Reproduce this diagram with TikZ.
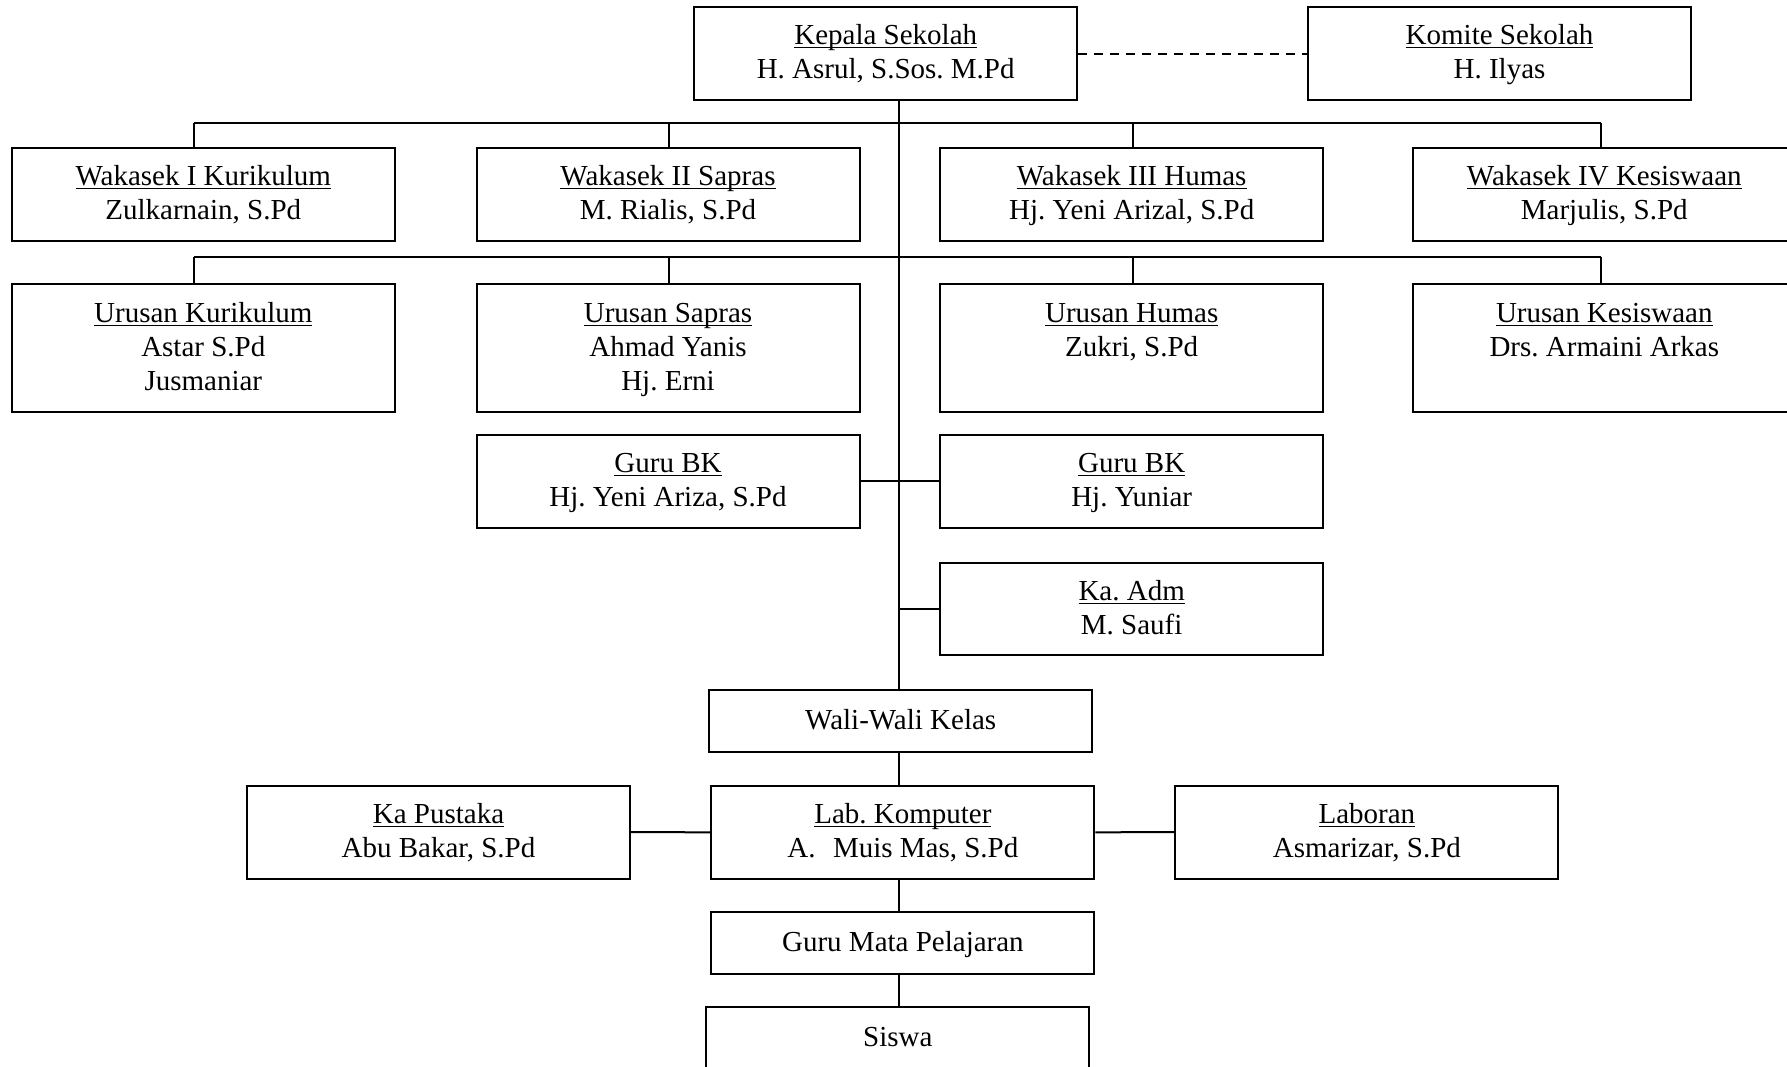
\documentclass[tikz,border=0pt]{standalone}
\usepackage{fontspec}
\setmainfont{Liberation Serif}
\frenchspacing
\newcommand\sr{\rule[-3.85pt]{0pt}{15.85pt}}
\newcommand\uln[1]{\setbox0=\hbox{#1}\rlap{\rule[-1.8pt]{\wd0}{0.55pt}}\box0}
\begin{document}
\begin{tikzpicture}[x=0.5pt,y=-0.5pt,
  box/.style={draw, line width=1pt, minimum width=191.5pt, minimum height=46.4pt,
    inner sep=0pt, align=center, font=\fontsize{14.5pt}{17pt}\selectfont},
  tallbox/.style={box, minimum height=63.7pt},
  lowbox/.style={box, minimum height=31pt},
  conn/.style={line width=1pt}]
\useasboundingbox (0,0) rectangle (1787,1066);

% top
\node[box] (kepala) at (885.7,53.7) {\uln{Kepala Sekolah}\sr\\H. Asrul, S.Sos. M.Pd\sr};
\node[box] (komite) at (1499.5,53.7) {\uln{Komite Sekolah}\sr\\H. Ilyas\sr};

% wakasek row
\node[box] (w1) at (203.3,194.2) {\uln{Wakasek I Kurikulum}\sr\\Zulkarnain, S.Pd\sr};
\node[box] (w2) at (668,194.2) {\uln{Wakasek II Sapras}\sr\\M. Rialis, S.Pd\sr};
\node[box] (w3) at (1131.7,194.2) {\uln{Wakasek III Humas}\sr\\Hj. Yeni Arizal, S.Pd\sr};
\node[box] (w4) at (1604.3,194.2) {\uln{Wakasek IV Kesiswaan}\sr\\Marjulis, S.Pd\sr};

% urusan row
\node[tallbox] (u1) at (203.3,348) {\uln{Urusan Kurikulum}\sr\\Astar S.Pd\sr\\Jusmaniar\sr};
\node[tallbox] (u2) at (668,348) {\uln{Urusan Sapras}\sr\\Ahmad Yanis\sr\\Hj. Erni\sr};
\node[tallbox] (u3) at (1131.7,348) {\uln{Urusan Humas}\sr\\Zukri, S.Pd\sr\\\sr};
\node[tallbox] (u4) at (1604.3,348) {\uln{Urusan Kesiswaan}\sr\\Drs. Armaini Arkas\sr\\\sr};

% guru bk, ka adm
\node[box] (bk1) at (668,481.4) {\uln{Guru BK}\sr\\Hj. Yeni Ariza, S.Pd\sr};
\node[box] (bk2) at (1131.7,481.4) {\uln{Guru BK}\sr\\Hj. Yuniar\sr};
\node[box] (adm) at (1131.7,609) {\uln{Ka. Adm}\sr\\M. Saufi\sr};

% lower chain
\node[lowbox] (wali) at (900.7,720.9) {Wali-Wali Kelas\sr};
\node[box] (pustaka) at (438.5,832.1) {\uln{Ka Pustaka}\sr\\Abu Bakar, S.Pd\sr};
\node[box] (lab) at (902.9,832.3) {\uln{Lab. Komputer}\sr\\A.\hspace{0.6em}Muis Mas, S.Pd\sr};
\node[box] (laboran) at (1366.9,832.1) {\uln{Laboran}\sr\\Asmarizar, S.Pd\sr};
\node[lowbox] (mapel) at (902.9,943.3) {Guru Mata Pelajaran\sr};
\node[lowbox] (siswa) at (897.8,1038) {Siswa\sr};

% helper coordinates
\coordinate (t) at (898.7,0);
\coordinate (d1) at (193.5,0);
\coordinate (d2) at (668.8,0);
\coordinate (d3) at (1133,0);
\coordinate (d4) at (1600.5,0);
\coordinate (bar1) at (0,123);
\coordinate (bar2) at (0,256.7);

% connectors
\draw[conn, dash pattern=on 4.5pt off 3.5pt] (kepala.east) -- (komite.west);
\draw[conn] (kepala.south -| t) -- (wali.north -| t);
\draw[conn] (d1 |- bar1) -- (d4 |- bar1);
\draw[conn] (d1 |- bar1) -- (d1 |- w1.north);
\draw[conn] (d2 |- bar1) -- (d2 |- w2.north);
\draw[conn] (d3 |- bar1) -- (d3 |- w3.north);
\draw[conn] (d4 |- bar1) -- (d4 |- w4.north);
\draw[conn] (d1 |- bar2) -- (d4 |- bar2);
\draw[conn] (d1 |- bar2) -- (d1 |- u1.north);
\draw[conn] (d2 |- bar2) -- (d2 |- u2.north);
\draw[conn] (d3 |- bar2) -- (d3 |- u3.north);
\draw[conn] (d4 |- bar2) -- (d4 |- u4.north);
\draw[conn] (bk1.east) -- (bk2.west);
\draw[conn] (adm.west -| t) -- (adm.west);
\draw[conn] (wali.south -| t) -- (lab.north -| t);
\draw[conn] (lab.south -| t) -- (mapel.north -| t);
\draw[conn] (mapel.south -| t) -- (siswa.north -| t);
\draw[conn] (pustaka.east) -- (lab.west);
\draw[conn] (lab.east) -- (laboran.west);
\end{tikzpicture}
\end{document}
